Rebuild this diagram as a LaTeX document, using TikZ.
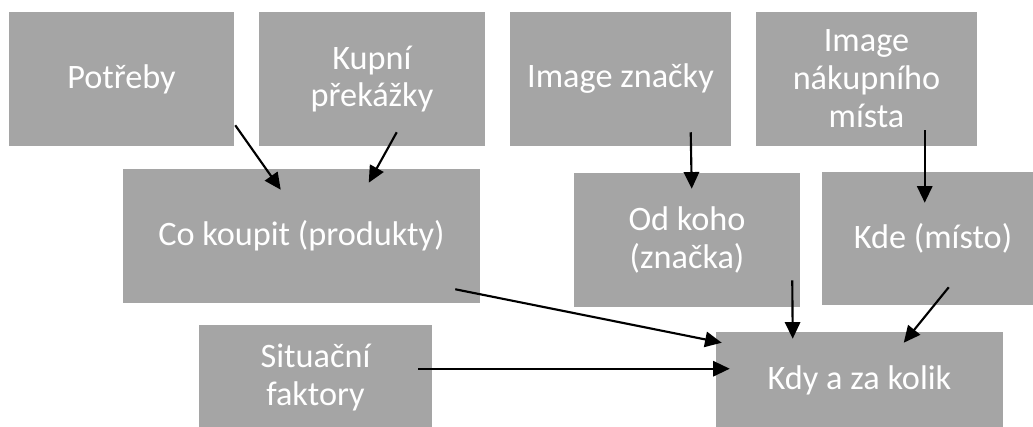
\documentclass[tikz,border=0pt]{standalone}
\usepackage{fontspec}
\setmainfont{Carlito}
\usetikzlibrary{positioning, arrows.meta, calc}
\definecolor{boxgray}{HTML}{A5A5A5}

\tikzset{
  box/.style 2 args={fill=boxgray, text=white, align=center, inner sep=0pt,
    minimum width=#1*0.75pt, minimum height=#2*0.75pt,
    font=\fontsize{25.7}{28.4}\selectfont},
  link/.style={line width=1.6pt, -{Triangle[length=12.5pt, width=11.5pt]}}
}

\begin{document}
\begin{tikzpicture}[x=0.75pt, y=-0.75pt]
  % Frame of the picture
  \useasboundingbox (0,0) rectangle (1033,427);
  \clip (0,0) rectangle (1033,427);

  % Top row
  \node[box={225}{134}] (potreby) at (121.5,79) {Potřeby};
  \node[box={226}{134}] (prekazky) at (372,79) {Kupní\\překážky};
  \node[box={221}{134}] (imgznacky) at (620.5,79) {Image značky};
  \node[box={221}{134}] (imgmista) at (866.5,79) {Image\\nákupního\\místa};

  % Middle row
  \node[box={357}{134}] (cokoupit) at (301.5,236) {Co koupit (produkty)};
  \node[box={226}{134}] (odkoho) at (687,240) {Od koho\\(značka)};
  \node[box={222}{133}] (kde) at (933,238.5) {Kde (místo)};

  % Bottom row
  \node[box={233}{105}] (situacni) at (315.5,377.5) {Situační\\faktory};
  \node[box={287}{96}] (kdy) at (859.5,380) {Kdy a za kolik};

  % Connectors
  \draw[link] ($(potreby.south east)+(1,-21)$) -- ($(cokoupit.north west)+(158,21)$);
  \draw[link] ($(prekazky.south west)+(138,-14)$) -- ($(cokoupit.north west)+(246,14)$);
  \draw[link] ($(imgznacky.south west)+(181,-14)$) -- ($(odkoho.north west)+(118,16)$);
  \draw[link] ($(imgmista.south west)+(169,-16)$) -- ($(kde.north west)+(103,31)$);
  \draw[link] ($(cokoupit.south east)+(-25,-14)$) -- ($(kdy.north west)+(6,11)$);
  \draw[link] ($(situacni.north east)+(-14,44)$) -- ($(kdy.north west)+(14,37)$);
  \draw[link] ($(odkoho.south east)+(-8,-27)$) -- ($(kdy.north west)+(77,7)$);
  \draw[link] ($(kde.south west)+(127,-18)$) -- ($(kdy.north west)+(188,11)$);
\end{tikzpicture}
\end{document}
